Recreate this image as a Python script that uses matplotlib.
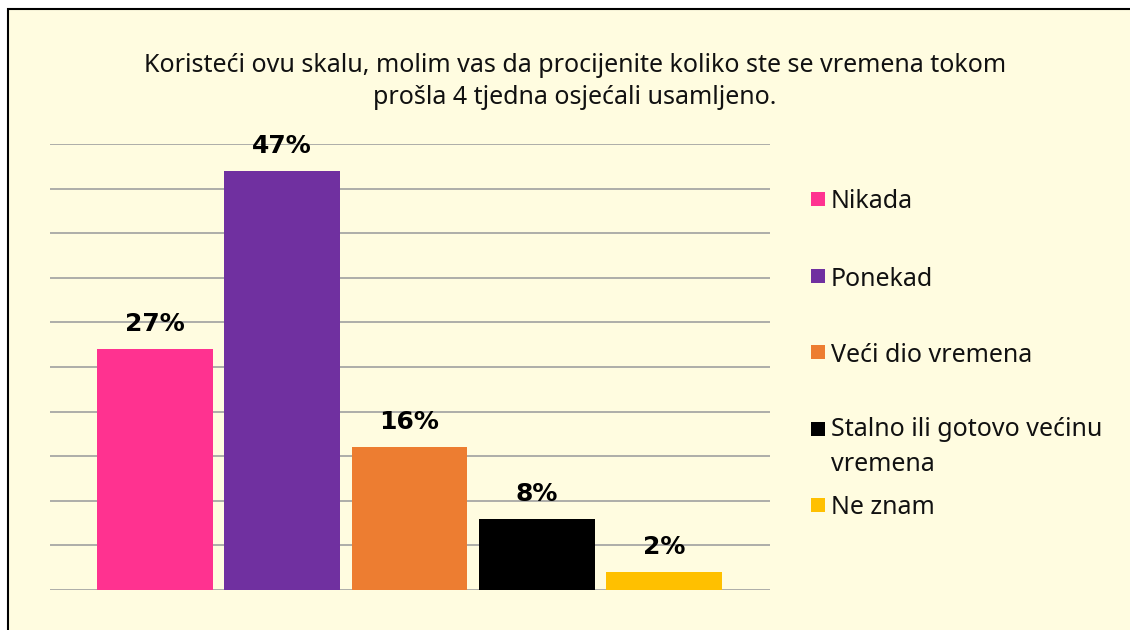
import matplotlib
matplotlib.use("Agg")
import matplotlib.pyplot as plt
from matplotlib.patches import Rectangle

categories = ["Nikada", "Ponekad", "Veći dio vremena", "Stalno ili gotovo većinu\nvremena", "Ne znam"]
values = [27, 47, 16, 8, 2]
labels = ["27%", "47%", "16%", "8%", "2%"]
colors = ["#FF3290", "#7030A0", "#ED7D31", "#000000", "#FFC000"]
title = "Koristeći ovu skalu, molim vas da procijenite koliko ste se vremena tokom\nprošla 4 tjedna osjećali usamljeno."

W, H = 1130, 630
fig = plt.figure(figsize=(W / 100, H / 100), dpi=100)
fig.patch.set_facecolor("white")
bg = "#FFFCE0"
FONT = "Noto Sans"

# chart frame
fig.patches.append(Rectangle((8 / W, -0.05), 1.1, (H - 9) / H + 0.05, transform=fig.transFigure,
                             facecolor=bg, edgecolor="black", linewidth=1.5, zorder=-10))

ax = fig.add_axes([50 / W, 40 / H, 720 / W, 446 / H], zorder=1)
ax.set_facecolor("none")
x = list(range(len(values)))
ax.bar(x, values, width=0.91, color=colors, zorder=3)
ax.set_xlim(-0.824, 4.832)
ax.set_ylim(0, 50)
ax.set_yticks(range(0, 51, 5))
ax.yaxis.grid(True, color="#A0A0A0", linewidth=1.2, zorder=0)
ax.set_axisbelow(True)
ax.tick_params(left=False, bottom=False, labelleft=False, labelbottom=False)
for s in ax.spines.values():
    s.set_visible(False)

for xi, v, lab in zip(x, values, labels):
    ax.annotate(lab, (xi, v), xytext=(0, 13), textcoords="offset points",
                ha="center", va="baseline", fontsize=18, fontweight="bold",
                family="DejaVu Sans", zorder=4)

fig.text(575 / W, 1 - 53 / H, title, ha="center", va="top", fontsize=18,
         family=FONT, linespacing=1.38, color="#111111")

# legend
leg_y = [199, 276, 352, 429, 505]
for cat, col, yy in zip(categories, colors, leg_y):
    fig.patches.append(Rectangle((811 / W, 1 - (yy + 7) / H), 14 / W, 14 / H,
                                 transform=fig.transFigure, facecolor=col, edgecolor="none"))
    if "\n" in cat:
        fig.text(831 / W, 1 - (yy - 12) / H, cat, ha="left", va="top",
                 fontsize=18, family=FONT, color="#111111", linespacing=1.55)
    else:
        fig.text(831 / W, 1 - yy / H, cat, ha="left", va="center_baseline",
                 fontsize=18, family=FONT, color="#111111")

fig.savefig("out.png", dpi=100, facecolor="white")
